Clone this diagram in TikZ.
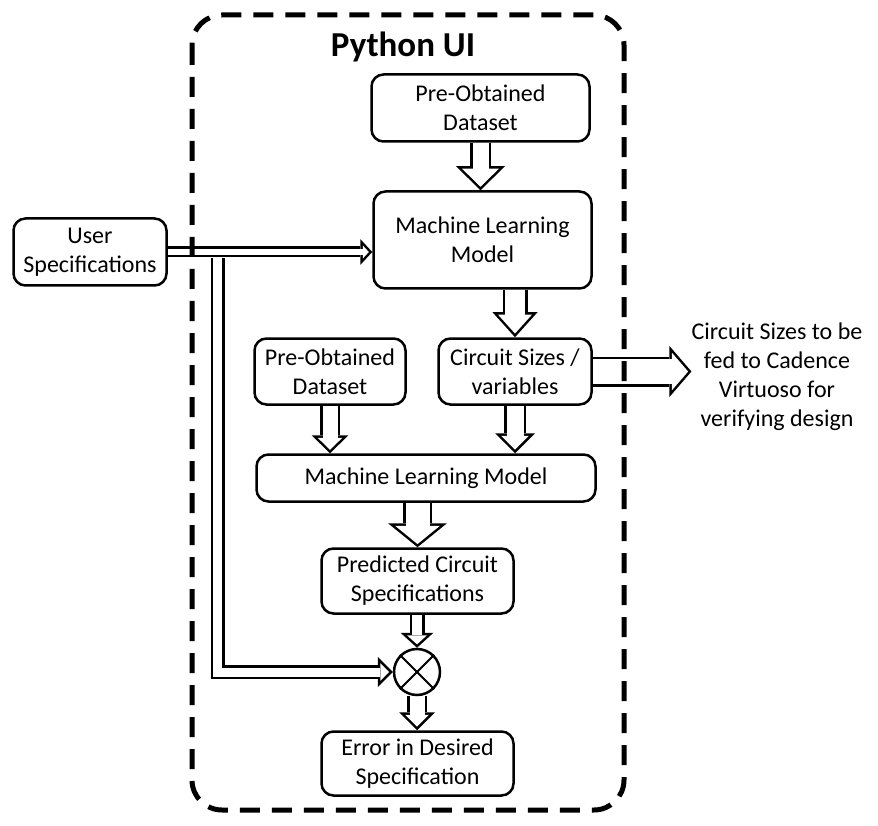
\documentclass[tikz,border=0pt]{standalone}
\usepackage{fontspec}
\setmainfont{Carlito}
\usepackage{tikz}
\usetikzlibrary{positioning,arrows.meta,calc,backgrounds}

% hollow block arrow: {shaft width}{head width}{head length}
\tikzset{
  pipe/.code n args={3}{%
    \pgfmathsetmacro\pipein{#1-5}%
    \pgfmathsetmacro\pipeback{2.5*sqrt(1+(2*#3/#2)^2)}%
    \pgfmathsetmacro\pipelen{#3-2.5-\pipeback}%
    \pgfmathsetmacro\pipewid{#2*\pipelen/#3}%
    \tikzset{draw=black, line width=#1pt, line join=miter,
      -{Triangle[length=#3pt, width=#2pt, line width=0pt]},
      postaction={draw=white, line width=\pipein pt,
        -{Triangle[length=\pipelen pt, width=\pipewid pt, line width=0pt]},
        shorten >=\pipeback pt}}%
  }
}

\begin{document}
\begin{tikzpicture}[x=1pt, y=-1pt,
    box/.style={draw, line width=2.5pt, rounded corners=12pt, align=center,
      inner sep=0pt, font=\fontsize{24}{29}\selectfont}]
  \useasboundingbox (0,0) rectangle (878,826);

  % Title
  \node[font=\fontsize{35}{40}\selectfont\bfseries] (title) at (403,47) {Python UI};

  % Boxes
  \node[box, minimum width=218pt, minimum height=67pt] (data1) at (480.5,108) {Pre-Obtained\\Dataset};
  \node[box, minimum width=218pt, minimum height=97pt] (model1) at (482.5,240) {Machine Learning\\Model};
  \node[box, minimum width=153pt, minimum height=67pt] (user) at (90,252) {User\\Specifications};
  \node[box, minimum width=153pt, minimum height=66pt] (sizes) at (515,371.5) {Circuit Sizes /\\variables};
  \node[box, minimum width=151pt, minimum height=66pt] (data2) at (330,371.5) {Pre-Obtained\\Dataset};
  \node[box, minimum width=339pt, minimum height=47pt] (model2) at (426,478) {Machine Learning Model};
  \node[box, minimum width=192pt, minimum height=65pt] (pred) at (417.5,581) {Predicted Circuit\\Specifications};
  \node[box, minimum width=192pt, minimum height=64pt] (err) at (417.5,763.5) {Error in Desired\\Specification};

  % Comparator
  \node[draw, circle, line width=2.5pt, minimum size=46pt, inner sep=0pt] (mix) at (417,672) {};
  \draw[line width=2pt] (mix.north west) -- (mix.south east)
    (mix.north east) -- (mix.south west);

  % Output text
  \node[align=center, inner sep=0pt, font=\fontsize{24}{29}\selectfont] (out) at (777,377)
    {Circuit Sizes to be\\fed to Cadence\\Virtuoso for\\verifying design};

  \coordinate (tap) at (217.5,258);

  % Arrows
  \begin{scope}[on background layer]
    \draw[pipe={14}{30}{15}] (tap) |- (mix.west);
    \draw[pipe={11}{26}{12}] (user.east) -- (user.east -| model1.west);
    \draw[pipe={21}{49}{24}] (data1.south) -- (data1.south |- model1.north);
    \draw[pipe={25}{45}{25}] (model1.south -| sizes) -- (sizes.north);
    \draw[pipe={30}{51}{22}] (sizes.east) -- (sizes.east -| out.west);
    \draw[pipe={20}{37}{18}] (data2.south) -- (data2.south |- model2.north);
    \draw[pipe={22}{40}{20}] (sizes.south) -- (sizes.south |- model2.north);
    \draw[pipe={29}{59}{24}] (model2.south -| pred) -- (pred.north);
    \draw[pipe={15}{33}{15}] (pred.south -| mix) -- (mix.north);
    \draw[pipe={20}{36}{18}] (mix.south) -- (mix.south |- err.north);
  \end{scope}

  % Python UI frame
  \draw[line width=5pt, dash pattern=on 20pt off 12pt, rounded corners=30pt]
    (192,15) rectangle (624,810);
\end{tikzpicture}
\end{document}
